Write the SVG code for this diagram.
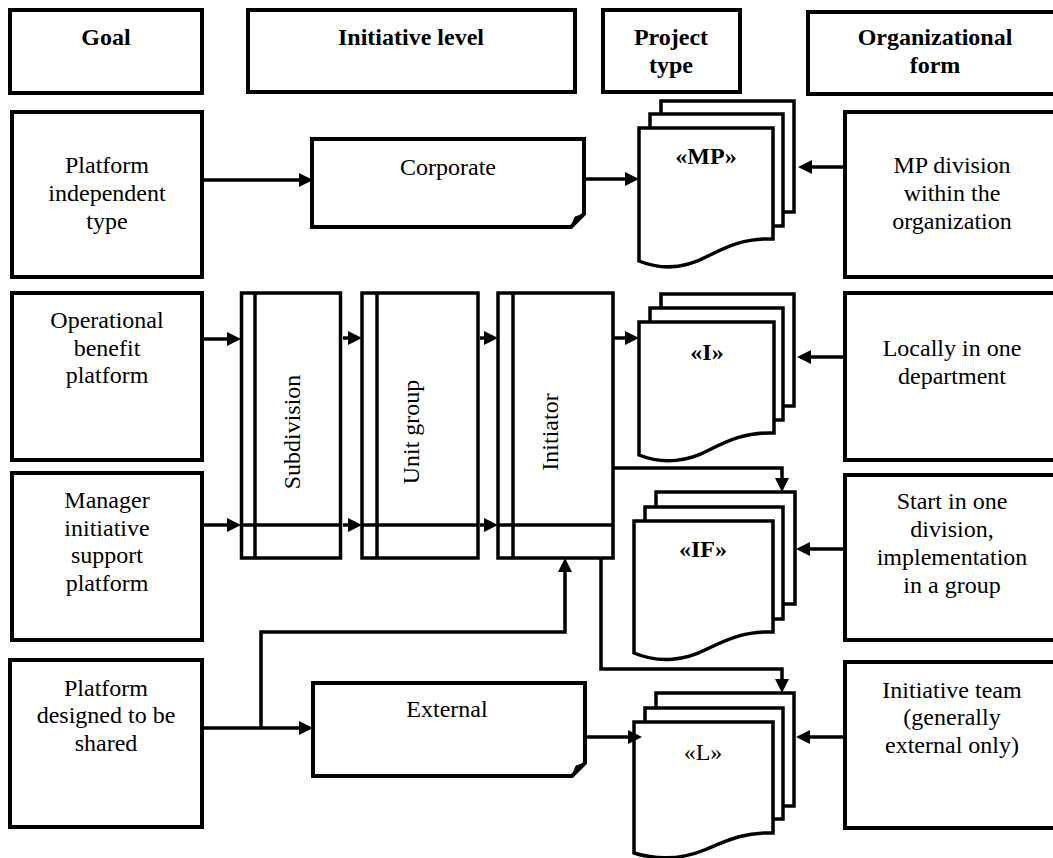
<svg xmlns="http://www.w3.org/2000/svg" width="1053" height="858" viewBox="0 0 1053 858">
  <style>
    .box { fill: #fff; stroke: #000; stroke-width: 4; }
    .bar { fill: #fff; stroke: #000; stroke-width: 3.5; }
    .sheet { fill: #fff; stroke: #000; stroke-width: 3.5; stroke-linejoin: miter; }
    .fold { fill: #000; stroke: #000; stroke-width: 1; }
    .edge { fill: none; stroke: #000; stroke-width: 3.5; }
    .arrow { fill: none; stroke: #000; stroke-width: 3.5; marker-end: url(#head); }
    text { font-family: "Liberation Serif", "Times New Roman", serif; font-size: 24px; fill: #000; text-anchor: middle; }
    .hdr { font-weight: bold; }
    .tag { font-weight: bold; }
  </style>
  <defs>
    <marker id="head" markerUnits="userSpaceOnUse" markerWidth="14" markerHeight="14" viewBox="0 0 14 14" refX="10" refY="7" orient="auto">
      <path d="M0,0 L14,7 L0,14 Z" fill="#000"/>
    </marker>
  </defs>

  <rect width="1053" height="858" fill="#fff"/>

  <!-- column headers -->
  <g id="hdr-goal">
    <rect class="box" x="10" y="10" width="192" height="83"/>
    <text class="hdr" x="106" y="45">Goal</text>
  </g>
  <g id="hdr-level">
    <rect class="box" x="248" y="10" width="327" height="82"/>
    <text class="hdr" x="411" y="45">Initiative level</text>
  </g>
  <g id="hdr-type">
    <rect class="box" x="603" y="10" width="137" height="82"/>
    <text class="hdr" x="671" y="45">Project</text>
    <text class="hdr" x="671" y="73">type</text>
  </g>
  <g id="hdr-form">
    <rect class="box" x="808" y="12" width="254" height="82"/>
    <text class="hdr" x="935" y="45">Organizational</text>
    <text class="hdr" x="935" y="73">form</text>
  </g>

  <!-- goals -->
  <g id="goal-independent">
    <rect class="box" x="12" y="112" width="190" height="165"/>
    <text x="107" y="173">Platform</text>
    <text x="107" y="201">independent</text>
    <text x="107" y="229">type</text>
  </g>
  <g id="goal-operational">
    <rect class="box" x="12" y="293" width="190" height="167"/>
    <text x="107" y="328">Operational</text>
    <text x="107" y="356">benefit</text>
    <text x="107" y="383">platform</text>
  </g>
  <g id="goal-manager">
    <rect class="box" x="12" y="473" width="190" height="167"/>
    <text x="107" y="508">Manager</text>
    <text x="107" y="536">initiative</text>
    <text x="107" y="563">support</text>
    <text x="107" y="591">platform</text>
  </g>
  <g id="goal-shared">
    <rect class="box" x="10" y="660" width="192" height="167"/>
    <text x="106" y="696">Platform</text>
    <text x="106" y="723">designed to be</text>
    <text x="106" y="751">shared</text>
  </g>

  <!-- initiative levels -->
  <g id="level-corporate">
    <path class="box" d="M312,139 H584 V214 L571,227 H312 Z"/>
    <path class="fold" d="M571,227 L575,217 L584,214 Z"/>
    <text x="448" y="175">Corporate</text>
  </g>
  <g id="level-subdivision">
    <rect class="bar" x="241.5" y="293" width="99" height="265"/>
    <line class="edge" x1="255" y1="293" x2="255" y2="558"/>
    <text transform="translate(300,432) rotate(-90)">Subdivision</text>
  </g>
  <g id="level-unitgroup">
    <rect class="bar" x="362" y="293" width="116" height="265"/>
    <line class="edge" x1="377" y1="293" x2="377" y2="558"/>
    <text transform="translate(419,432) rotate(-90)">Unit group</text>
  </g>
  <g id="level-initiator">
    <rect class="bar" x="498" y="293" width="115" height="265"/>
    <line class="edge" x1="513" y1="293" x2="513" y2="558"/>
    <text transform="translate(558,432) rotate(-90)">Initiator</text>
  </g>
  <g id="level-external">
    <path class="box" d="M313,683 H585 V763 L572,776 H313 Z"/>
    <path class="fold" d="M572,776 L576,766 L585,763 Z"/>
    <text x="447" y="717">External</text>
  </g>

  <!-- project type stacks -->
  <g id="type-mp">
    <rect class="sheet" x="661" y="101" width="133" height="111"/>
    <rect class="sheet" x="650" y="114" width="133" height="112"/>
    <path class="sheet" d="M639,128 H773 V239 C745,238 728,246 708,256 C688,267 664,271 639,261 Z"/>
    <text class="tag" x="706" y="164">«MP»</text>
  </g>
  <g id="type-i">
    <rect class="sheet" x="661" y="294" width="133" height="112"/>
    <rect class="sheet" x="650" y="308" width="133" height="112"/>
    <path class="sheet" d="M639,322 H774 V433 C746,432 729,440 709,450 C689,461 664,465 639,455 Z"/>
    <text class="tag" x="707" y="360">«I»</text>
  </g>
  <g id="type-if">
    <rect class="sheet" x="656" y="492" width="139" height="112"/>
    <rect class="sheet" x="645" y="507" width="138" height="112"/>
    <path class="sheet" d="M634,521 H773 V632 C745,631 728,639 707,649 C686,660 660,664 634,653 Z"/>
    <text class="tag" x="703" y="557">«IF»</text>
  </g>
  <g id="type-l">
    <rect class="sheet" x="656" y="693" width="138" height="113"/>
    <rect class="sheet" x="645" y="708" width="138" height="111"/>
    <path class="sheet" d="M634,722 H773 V833 C745,832 728,840 707,849 C686,858 660,861 634,853 Z"/>
    <text x="703" y="760">«L»</text>
  </g>

  <!-- organizational forms -->
  <g id="form-mp">
    <rect class="box" x="845" y="112" width="215" height="165"/>
    <text x="952" y="173">MP division</text>
    <text x="952" y="201">within the</text>
    <text x="952" y="229">organization</text>
  </g>
  <g id="form-local">
    <rect class="box" x="845" y="293" width="215" height="167"/>
    <text x="952" y="356">Locally in one</text>
    <text x="952" y="384">department</text>
  </g>
  <g id="form-start">
    <rect class="box" x="845" y="475" width="215" height="165"/>
    <text x="952" y="509">Start in one</text>
    <text x="952" y="537">division,</text>
    <text x="952" y="565">implementation</text>
    <text x="952" y="593">in a group</text>
  </g>
  <g id="form-team">
    <rect class="box" x="845" y="662" width="215" height="166"/>
    <text x="952" y="698">Initiative team</text>
    <text x="952" y="725">(generally</text>
    <text x="952" y="753">external only)</text>
  </g>

  <!-- connectors -->
  <g id="connectors">
    <path class="arrow" d="M202,180 H309"/>
    <path class="arrow" d="M584,179 H635"/>
    <path class="arrow" d="M845,167 H802"/>

    <path class="arrow" d="M202,339 H237"/>
    <path class="arrow" d="M343,338 H358"/>
    <path class="arrow" d="M480,338 H494"/>
    <path class="arrow" d="M613,338 H635"/>
    <path class="arrow" d="M845,357 H801"/>

    <path class="arrow" d="M202,525 H237"/>
    <path class="edge" d="M241,525 H341"/>
    <path class="arrow" d="M343,525 H358"/>
    <path class="edge" d="M362,525 H478"/>
    <path class="arrow" d="M480,525 H494"/>
    <path class="edge" d="M498,525 H613"/>

    <path class="arrow" d="M613,468 H782 V488"/>
    <path class="arrow" d="M845,549 H800"/>
    <path class="arrow" d="M601,558 V669 H782 V689"/>

    <path class="arrow" d="M202,728 H309"/>
    <path class="arrow" d="M261,728 V632 H565 V562"/>
    <path class="arrow" d="M585,737 H638"/>
    <path class="arrow" d="M845,737 H800"/>
  </g>
</svg>
